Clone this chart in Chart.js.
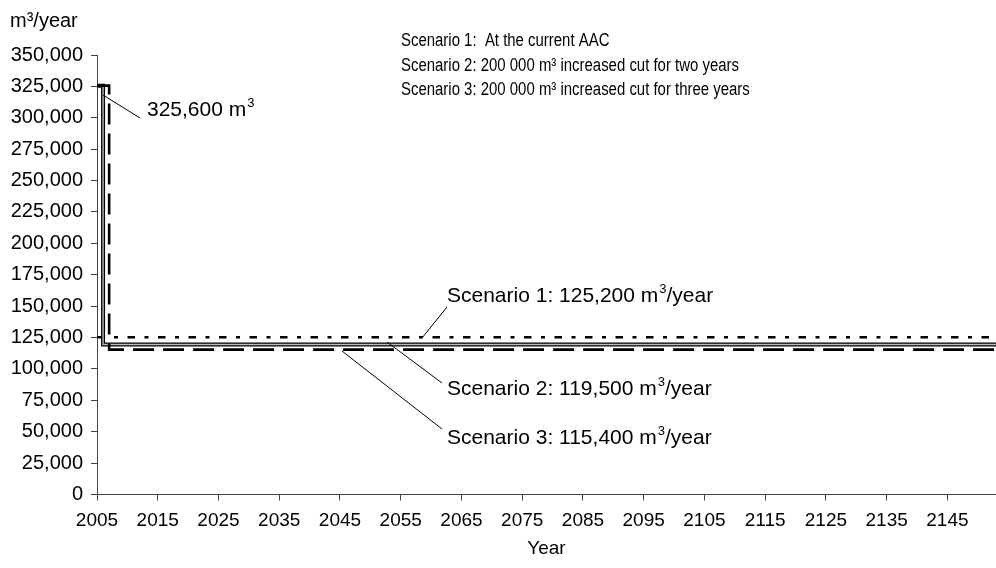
<!DOCTYPE html>
<html>
<head>
<meta charset="utf-8">
<script src="https://cdn.jsdelivr.net/npm/chart.js@4.4.0/dist/chart.umd.min.js"></script>
<style>
  html, body { margin: 0; padding: 0; background: #fff; }
</style>
</head>
<body>
<canvas id="graficoCorte" width="996" height="568"></canvas>
<script>
// scenario 1: constant at current AAC
const anios1 = [2005, 2153];
const valores1 = [125200, 125200];
// scenario 2: increased cut for two years
const anios2 = [2005, 2006, 2153];
const valores2 = [325600, 119500, 119500];
// scenario 3: increased cut for three years
const anios3 = [2005, 2007, 2153];
const valores3 = [325600, 115400, 115400];

const ticksX = [2005, 2015, 2025, 2035, 2045, 2055, 2065, 2075, 2085, 2095, 2105, 2115, 2125, 2135, 2145];

const leyenda = [
    "Scenario 1:  At the current AAC",
    "Scenario 2: 200 000 m³ increased cut for two years",
    "Scenario 3: 200 000 m³ increased cut for three years",
];
const etiquetas = ["Scenario 1: 125,200 m", "Scenario 2: 119,500 m", "Scenario 3: 115,400 m"];
const etiquetaPico = "325,600 m";

const puntos = (anios, valores) => anios.map((a, i) => ({ x: a, y: valores[i] }));

const fuente = "'Liberation Sans', Arial, sans-serif";
Chart.defaults.font.family = fuente;
Chart.defaults.color = "#000";

// text with a superscript 3 after the "m"
function textoSup(ctx, texto, resto, x, y, tam) {
    ctx.font = tam + "px " + fuente;
    ctx.fillText(texto, x, y);
    let w = ctx.measureText(texto).width;
    ctx.font = Math.round(tam * 0.62) + "px " + fuente;
    ctx.fillText("3", x + w + 1, y - tam * 0.42);
    w += ctx.measureText("3").width + 1;
    ctx.font = tam + "px " + fuente;
    if (resto) ctx.fillText(resto, x + w, y);
}

const notas = {
    id: "notas",
    afterDraw(chart) {
        const ctx = chart.ctx;
        ctx.save();
        ctx.fillStyle = "#000";
        ctx.strokeStyle = "#000";
        ctx.lineWidth = 1;
        ctx.textBaseline = "alphabetic";
        ctx.textAlign = "left";

        ctx.font = "20px " + fuente;
        ctx.fillText("m³/year", 10, 27);

        // narrow font for the scenario descriptions
        ctx.save();
        ctx.translate(401, 0);
        ctx.scale(0.83, 1);
        ctx.font = "18px " + fuente;
        leyenda.forEach((t, i) => ctx.fillText(t, 0, 46 + i * 24.5));
        ctx.restore();

        // leader lines
        const lineas = [
            [103, 95, 140, 118],
            [422, 338, 447, 307],
            [387, 342, 442, 383],
            [342, 351, 442, 429],
        ];
        lineas.forEach(([x1, y1, x2, y2]) => {
            ctx.beginPath();
            ctx.moveTo(x1, y1);
            ctx.lineTo(x2, y2);
            ctx.stroke();
        });

        textoSup(ctx, etiquetaPico, "", 147, 116, 21);
        textoSup(ctx, etiquetas[0], "/year", 447, 302, 21);
        textoSup(ctx, etiquetas[1], "/year", 447, 395, 21);
        textoSup(ctx, etiquetas[2], "/year", 447, 444, 21);
        ctx.restore();
    },
};

const dataGrafico = {
    datasets: [
        {
            label: "Scenario 1",
            data: puntos(anios1, valores1),
            borderColor: "#000",
            borderWidth: 2.5,
            borderDash: [7.5, 9.5, 4, 9.5],
            stepped: true,
            order: 3,
        },
        {
            label: "Scenario 2",
            data: puntos(anios2, valores2),
            borderColor: "#000",
            borderWidth: 4,
            stepped: true,
            order: 2,
        },
        {
            label: "Scenario 2 inner",
            data: puntos(anios2, valores2),
            borderColor: "#bbb",
            borderWidth: 1.4,
            stepped: true,
            order: 1,
        },
        {
            label: "Scenario 3",
            data: puntos(anios3, valores3),
            borderColor: "#000",
            borderWidth: 2.6,
            borderDash: [21, 9],
            stepped: true,
            order: 0,
        },
    ],
};

const configGrafico = {
    type: "line",
    data: dataGrafico,
    options: {
        responsive: false,
        animation: false,
        parsing: false,
        elements: { point: { radius: 0 } },
        layout: { padding: { top: 55, right: 0, left: 0, bottom: 0 } },
        plugins: {
            legend: { display: false },
            tooltip: { enabled: false },
        },
        scales: {
            x: {
                type: "linear",
                min: 2005,
                max: 2153,
                afterBuildTicks: (eje) => {
                    eje.ticks = ticksX.map((v) => ({ value: v }));
                },
                afterFit: (eje) => {
                    eje.height = 73.5;
                },
                ticks: {
                    callback: (v) => String(v),
                    font: { size: 19 },
                    padding: 9,
                    maxRotation: 0,
                    autoSkip: false,
                },
                grid: {
                    drawOnChartArea: false,
                    tickLength: 6,
                    color: "#444",
                },
                border: { color: "#444", width: 1 },
                title: {
                    display: true,
                    text: "Year",
                    font: { size: 19 },
                    padding: { top: 0, bottom: 8 },
                },
            },
            y: {
                min: 0,
                max: 350000,
                afterFit: (eje) => {
                    eje.width = 97;
                },
                ticks: {
                    stepSize: 25000,
                    callback: (v) => v.toLocaleString("en-US"),
                    font: { size: 20 },
                    padding: 8,
                },
                grid: {
                    drawOnChartArea: false,
                    tickLength: 6,
                    color: "#444",
                },
                border: { color: "#444", width: 1 },
            },
        },
    },
    plugins: [notas],
};

const chartCorte = new Chart(document.getElementById("graficoCorte"), configGrafico);
</script>
</body>
</html>
